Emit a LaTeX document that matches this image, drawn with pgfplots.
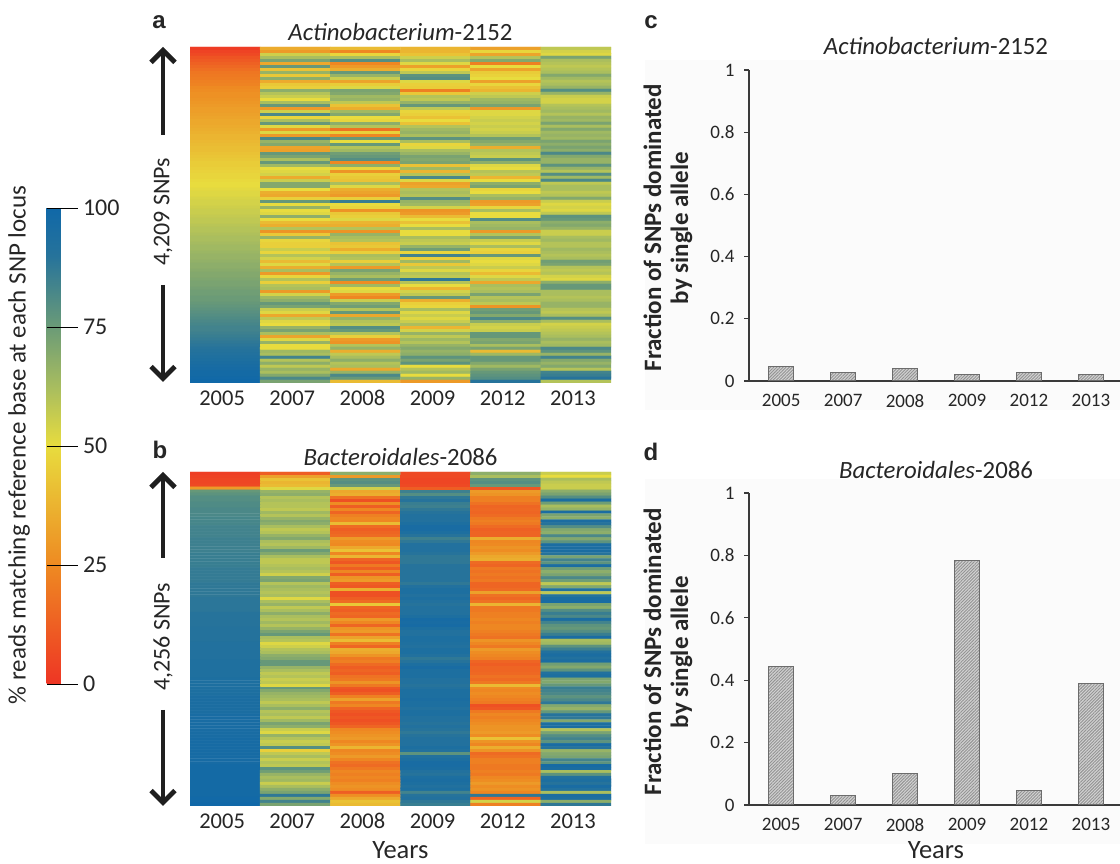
\documentclass[border=0pt]{standalone}
\usepackage{fontspec}
\setmainfont{Carlito}
\newfontfamily\panelfont{Liberation Sans}
\usepackage{pgfplots}
\pgfplotsset{compat=1.18}
\usetikzlibrary{arrows.meta,patterns.meta}
\definecolor{txt}{HTML}{262626}
\definecolor{axgray}{HTML}{3A3A3A}
\pgfplotsset{
  colormap={snp}{rgb255(0pt)=(238,53,36) rgb255(25pt)=(238,138,34) rgb255(50pt)=(232,220,62) rgb255(62pt)=(170,190,94) rgb255(75pt)=(107,155,119) rgb255(90pt)=(38,115,155) rgb255(100pt)=(16,104,168)},
  heat/.style={
    scale only axis, width=421pt, anchor=south west,
    xmin=-0.5, xmax=5.5, ymin=-0.5, ymax=111.5, y dir=reverse,
    axis line style={draw=none}, ytick=\empty,
    xtick={0,1,2,3,4,5}, xticklabels={2005,2007,2008,2009,2012,2013},
    major tick length=0pt,
    colormap name=snp, point meta min=0, point meta max=100,
    /pgf/number format/assume math mode=true,
    xticklabel style={font=\fontsize{22.5}{22}\selectfont, text=txt, yshift=-4pt, xshift=-3pt},
    title style={font=\fontsize{24.8}{26}\selectfont, text=txt, yshift=-3pt},
  },
  hm/.style={matrix plot*, shader=faceted, faceted color=mapped color, line width=0.4pt, mesh/cols=6, point meta=explicit},
  bars/.style={
    scale only axis, width=371pt, anchor=south west,
    ybar, bar width=25pt, bar shift=0pt,
    xmin=-0.52, xmax=5.47, ymin=0, ymax=1,
    axis x line=bottom, axis y line=left,
    axis line style={-, line width=1.3pt, color=axgray},
    xtick={0,1,2,3,4,5}, xticklabels={2005,2007,2008,2009,2012,2013},
    ytick={0,0.2,0.4,0.6,0.8,1},
    yticklabels={0,0.2,0.4,0.6,0.8,1},
    xtick style={draw=none},
    ytick style={line width=1.1pt, color=axgray},
    tick align=outside, major tick length=5pt,
    /pgf/number format/assume math mode=true,
    tick label style={font=\fontsize{19}{19}\selectfont, text=txt},
    xticklabel style={yshift=-5pt},
    yticklabel style={xshift=-6pt},
    clip=false,
  },
  hb/.style={draw=gray!85!black, line width=1pt, preaction={fill=gray!35},
    pattern={Lines[angle=45,distance=2.2pt,line width=0.9pt]}, pattern color=gray!85},
}
\begin{document}
\begin{tikzpicture}
\useasboundingbox (0pt,0pt) rectangle (1120pt,864pt);
\fill[black!1.5] (645pt,454pt) rectangle (1120pt,804pt);
\fill[black!1.5] (645pt,20pt) rectangle (1120pt,385pt);

% panel a
\begin{axis}[heat, at={(190pt,481pt)}, height=336pt,
  title={\textit{Actinobacterium}-2152},
  colorbar,
  colorbar style={
    at={(parent axis.south west)}, anchor=south west,
    xshift=-152pt, yshift=-301pt,
    width=31pt, height=476pt,
    ytick={0,25,50,75,100},
    yticklabels={0,25,50,75,100},
    ytick pos=right, yticklabel pos=right,
    tick align=inside, major tick length=31pt,
    ytick style={black, line width=0.9pt},
    xtick=\empty,
    axis line style={draw=none},
    /pgf/number format/assume math mode=true,
    yticklabel style={font=\fontsize{24}{24}\selectfont, text=txt, xshift=2pt},
  },
]
\addplot[hm] table[row sep=crcr,header=false,x expr={mod(\coordindex,6)},y expr={(\coordindex-mod(\coordindex,6))/6},meta index=0] {
2\\35\\40\\38\\32\\58\\
4\\30\\24\\38\\48\\54\\
6\\55\\48\\42\\33\\52\\
9\\62\\62\\55\\60\\72\\
11\\72\\80\\62\\70\\62\\
13\\34\\24\\52\\22\\60\\
15\\76\\30\\32\\50\\58\\
17\\42\\36\\48\\33\\60\\
19\\66\\76\\58\\45\\62\\
20\\44\\66\\78\\47\\70\\
21\\68\\56\\80\\50\\64\\
22\\35\\33\\52\\32\\60\\
23\\44\\45\\46\\48\\62\\
25\\46\\52\\45\\42\\66\\
26\\68\\72\\22\\38\\80\\
27\\60\\70\\44\\55\\66\\
27\\56\\64\\60\\58\\56\\
28\\50\\66\\58\\64\\54\\
29\\62\\58\\66\\66\\54\\
30\\76\\42\\76\\72\\60\\
31\\30\\36\\58\\30\\62\\
31\\55\\64\\48\\52\\64\\
32\\82\\70\\46\\52\\60\\
33\\48\\50\\42\\54\\66\\
34\\62\\48\\50\\56\\64\\
34\\76\\68\\42\\54\\72\\
35\\52\\60\\60\\56\\62\\
36\\30\\18\\64\\54\\70\\
37\\52\\46\\66\\56\\64\\
38\\30\\24\\62\\60\\66\\
38\\82\\76\\78\\74\\64\\
39\\66\\50\\62\\70\\72\\
40\\70\\76\\48\\66\\68\\
41\\33\\60\\52\\36\\72\\
41\\32\\64\\62\\60\\68\\
42\\76\\74\\66\\58\\82\\
43\\72\\76\\72\\56\\70\\
44\\62\\80\\70\\78\\66\\
45\\76\\24\\72\\68\\66\\
45\\64\\68\\42\\52\\78\\
46\\50\\48\\64\\50\\66\\
47\\52\\28\\38\\60\\60\\
48\\54\\46\\60\\58\\80\\
48\\35\\44\\82\\38\\64\\
49\\56\\42\\52\\50\\82\\
50\\70\\62\\32\\68\\58\\
50\\70\\52\\34\\72\\62\\
51\\50\\36\\60\\48\\62\\
52\\36\\33\\62\\50\\58\\
52\\34\\30\\60\\62\\60\\
53\\46\\46\\80\\66\\70\\
54\\76\\86\\66\\30\\56\\
54\\50\\50\\64\\32\\52\\
55\\66\\48\\54\\48\\54\\
56\\50\\28\\28\\62\\52\\
56\\52\\44\\30\\50\\58\\
57\\68\\46\\40\\50\\78\\
58\\50\\52\\50\\80\\76\\
58\\40\\38\\42\\62\\68\\
59\\36\\36\\50\\64\\70\\
60\\60\\60\\62\\66\\66\\
60\\28\\28\\50\\30\\56\\
61\\44\\66\\50\\60\\56\\
62\\66\\62\\62\\72\\62\\
62\\48\\60\\58\\56\\64\\
63\\46\\42\\56\\52\\60\\
64\\46\\44\\66\\62\\60\\
64\\56\\36\\74\\48\\64\\
65\\48\\46\\48\\46\\62\\
66\\60\\62\\84\\76\\60\\
66\\54\\60\\46\\52\\62\\
67\\40\\46\\64\\50\\74\\
68\\52\\60\\44\\52\\72\\
68\\36\\30\\58\\56\\60\\
69\\62\\72\\52\\48\\58\\
70\\30\\66\\60\\40\\60\\
70\\48\\62\\58\\52\\54\\
71\\60\\74\\88\\58\\52\\
72\\46\\26\\60\\34\\68\\
72\\60\\64\\50\\62\\76\\
73\\62\\50\\38\\60\\76\\
74\\30\\52\\54\\62\\62\\
74\\54\\30\\58\\72\\62\\
75\\64\\24\\76\\60\\60\\
75\\68\\56\\36\\62\\62\\
76\\76\\70\\46\\58\\66\\
77\\72\\74\\48\\28\\66\\
78\\56\\60\\62\\74\\60\\
79\\52\\76\\52\\76\\58\\
80\\34\\34\\56\\70\\62\\
81\\58\\66\\52\\82\\80\\
82\\52\\60\\56\\68\\62\\
83\\50\\58\\62\\56\\54\\
84\\66\\80\\38\\54\\56\\
84\\72\\76\\54\\56\\58\\
85\\62\\60\\66\\76\\60\\
86\\33\\46\\58\\76\\62\\
87\\52\\30\\64\\70\\66\\
88\\66\\28\\60\\72\\62\\
89\\50\\60\\66\\62\\64\\
90\\50\\66\\70\\72\\82\\
91\\64\\36\\66\\40\\78\\
92\\62\\58\\68\\64\\66\\
93\\84\\62\\78\\76\\84\\
94\\60\\68\\72\\76\\70\\
95\\68\\60\\78\\70\\66\\
96\\58\\62\\50\\64\\70\\
97\\66\\34\\60\\72\\60\\
98\\62\\66\\64\\76\\84\\
98\\70\\82\\50\\78\\86\\
99\\82\\76\\66\\80\\90\\
100\\72\\40\\30\\90\\60\\
};
\end{axis}

% panel b
\begin{axis}[heat, at={(190pt,58pt)}, height=334pt,
  title={\textit{Bacteroidales}-2086},
  xlabel={Years}, xlabel style={font=\fontsize{26.5}{26.5}\selectfont, text=txt, yshift=-6pt},
]
\addplot[hm] table[row sep=crcr,header=false,x expr={mod(\coordindex,6)},y expr={(\coordindex-mod(\coordindex,6))/6},meta index=0] {
3\\12\\68\\6\\68\\56\\
4\\32\\30\\6\\62\\50\\
5\\42\\78\\5\\78\\62\\
5\\38\\80\\5\\80\\58\\
6\\40\\76\\6\\76\\56\\
30\\52\\55\\12\\10\\56\\
76\\66\\34\\85\\30\\68\\
78\\68\\36\\80\\28\\72\\
80\\60\\18\\88\\22\\80\\
80\\62\\8\\90\\22\\95\\
81\\60\\26\\86\\18\\74\\
81\\60\\12\\85\\14\\62\\
82\\58\\24\\88\\15\\66\\
82\\64\\14\\90\\14\\95\\
82\\60\\22\\92\\16\\72\\
83\\66\\25\\92\\20\\68\\
83\\70\\24\\92\\22\\95\\
83\\68\\40\\94\\20\\90\\
84\\62\\16\\96\\16\\80\\
84\\58\\12\\96\\13\\70\\
84\\60\\14\\94\\14\\68\\
84\\66\\16\\90\\14\\82\\
85\\70\\30\\85\\36\\70\\
85\\62\\26\\88\\24\\78\\
85\\60\\25\\92\\25\\95\\
85\\64\\34\\92\\28\\95\\
85\\75\\42\\92\\26\\95\\
86\\70\\24\\90\\30\\90\\
86\\62\\38\\88\\34\\72\\
86\\58\\14\\88\\36\\84\\
86\\58\\10\\88\\16\\78\\
86\\60\\20\\90\\14\\95\\
87\\62\\12\\90\\20\\74\\
87\\60\\24\\90\\18\\68\\
87\\55\\12\\90\\20\\72\\
87\\70\\28\\90\\18\\82\\
87\\72\\30\\90\\20\\74\\
88\\60\\12\\88\\14\\58\\
88\\64\\10\\92\\14\\70\\
88\\62\\36\\94\\16\\92\\
88\\60\\8\\94\\32\\58\\
88\\62\\8\\92\\18\\90\\
89\\52\\12\\94\\15\\95\\
89\\62\\16\\92\\18\\96\\
89\\66\\44\\90\\38\\72\\
89\\58\\14\\92\\20\\68\\
89\\62\\12\\92\\20\\80\\
90\\68\\16\\92\\22\\86\\
90\\62\\14\\94\\22\\82\\
90\\60\\30\\97\\24\\95\\
90\\64\\24\\96\\22\\84\\
90\\60\\14\\97\\24\\78\\
91\\66\\28\\94\\24\\76\\
91\\72\\30\\92\\22\\80\\
91\\76\\18\\92\\20\\86\\
91\\62\\32\\94\\18\\96\\
91\\60\\40\\94\\28\\62\\
92\\52\\22\\93\\24\\64\\
92\\55\\14\\92\\20\\78\\
92\\60\\36\\94\\30\\85\\
92\\62\\34\\94\\26\\92\\
92\\68\\28\\92\\24\\95\\
92\\70\\20\\88\\22\\92\\
93\\76\\22\\90\\14\\95\\
93\\76\\16\\94\\12\\74\\
93\\66\\12\\96\\14\\70\\
93\\62\\14\\94\\14\\78\\
93\\58\\12\\94\\15\\92\\
93\\60\\18\\94\\18\\94\\
94\\56\\20\\92\\16\\72\\
94\\58\\28\\92\\20\\70\\
94\\52\\20\\90\\40\\76\\
94\\76\\10\\92\\26\\86\\
94\\70\\8\\94\\24\\84\\
94\\66\\12\\94\\26\\82\\
95\\64\\22\\94\\24\\78\\
95\\62\\32\\95\\22\\82\\
95\\58\\20\\94\\20\\88\\
95\\62\\24\\94\\8\\70\\
95\\68\\14\\92\\10\\66\\
95\\60\\10\\94\\20\\76\\
96\\62\\8\\94\\24\\90\\
96\\58\\10\\92\\22\\88\\
96\\64\\8\\92\\24\\70\\
96\\72\\10\\90\\26\\94\\
96\\68\\14\\92\\28\\95\\
96\\56\\24\\90\\28\\60\\
96\\52\\26\\88\\30\\72\\
96\\66\\28\\90\\26\\80\\
97\\60\\30\\92\\42\\84\\
97\\56\\24\\92\\28\\78\\
97\\58\\28\\92\\24\\96\\
97\\80\\38\\94\\36\\90\\
97\\46\\24\\92\\28\\66\\
97\\58\\26\\78\\16\\70\\
97\\62\\30\\92\\18\\72\\
97\\56\\24\\94\\22\\84\\
97\\60\\18\\96\\22\\78\\
98\\58\\16\\96\\20\\97\\
98\\78\\20\\95\\20\\95\\
98\\74\\24\\92\\22\\62\\
98\\66\\22\\90\\20\\78\\
98\\62\\24\\94\\24\\92\\
98\\64\\22\\95\\26\\94\\
98\\56\\26\\94\\30\\90\\
98\\62\\28\\92\\26\\96\\
98\\68\\26\\94\\28\\92\\
98\\72\\12\\84\\24\\62\\
98\\88\\26\\90\\88\\95\\
99\\70\\34\\92\\14\\94\\
99\\84\\42\\88\\54\\68\\
100\\72\\40\\86\\22\\88\\
};
\end{axis}

% panel c
\begin{axis}[bars, at={(749pt,483pt)}, height=311pt]
\addplot[hb] coordinates {(0,0.045) (1,0.028) (2,0.04) (3,0.022) (4,0.028) (5,0.02)};
\end{axis}

% panel d
\begin{axis}[bars, at={(749pt,59pt)}, height=312pt]
\addplot[hb] coordinates {(0,0.445) (1,0.032) (2,0.1) (3,0.785) (4,0.048) (5,0.39)};
\end{axis}

% text
\begin{scope}[x=1pt,y=1pt]
\node[rotate=90, text=txt, font=\fontsize{25}{26}\selectfont] at (19,419) {\% reads matching reference base at each SNP locus};
\node[font=\panelfont\bfseries\fontsize{24}{24}\selectfont, text=txt] at (159,842) {a};
\node[font=\panelfont\bfseries\fontsize{24}{24}\selectfont, text=txt] at (160,414) {b};
\node[font=\panelfont\bfseries\fontsize{24}{24}\selectfont, text=txt] at (651,842) {c};
\node[font=\panelfont\bfseries\fontsize{24}{24}\selectfont, text=txt] at (651,412) {d};
\node[text=txt, font=\fontsize{24.8}{26}\selectfont] at (936,818) {\textit{Actinobacterium}-2152};
\node[text=txt, font=\fontsize{24.8}{26}\selectfont] at (936,394) {\textit{Bacteroidales}-2086};
\node[text=txt, font=\fontsize{26.5}{26.5}\selectfont] at (936,14) {Years};
\node[rotate=90, text=txt, align=center, font=\bfseries\fontsize{25}{27}\selectfont] at (668,212) {Fraction of SNPs dominated\\by single allele};
\node[rotate=90, text=txt, align=center, font=\bfseries\fontsize{25}{27}\selectfont] at (668,636) {Fraction of SNPs dominated\\by single allele};
\node[rotate=90, text=txt, font=\fontsize{24}{24}\selectfont] at (163,652) {4,209 SNPs};
\node[rotate=90, text=txt, font=\fontsize{24}{24}\selectfont] at (163,227) {4,256 SNPs};
\tikzset{bigarrow/.style={line width=3.4pt, color=black!88, -{Straight Barb[length=12pt,width=24pt,line width=4.8pt]}}}
\draw[bigarrow] (163,729) -- (163,817);
\draw[bigarrow] (163,579) -- (163,482);
\draw[bigarrow] (163,306) -- (163,392);
\draw[bigarrow] (163,154) -- (163,58);
\end{scope}
\end{tikzpicture}
\end{document}
